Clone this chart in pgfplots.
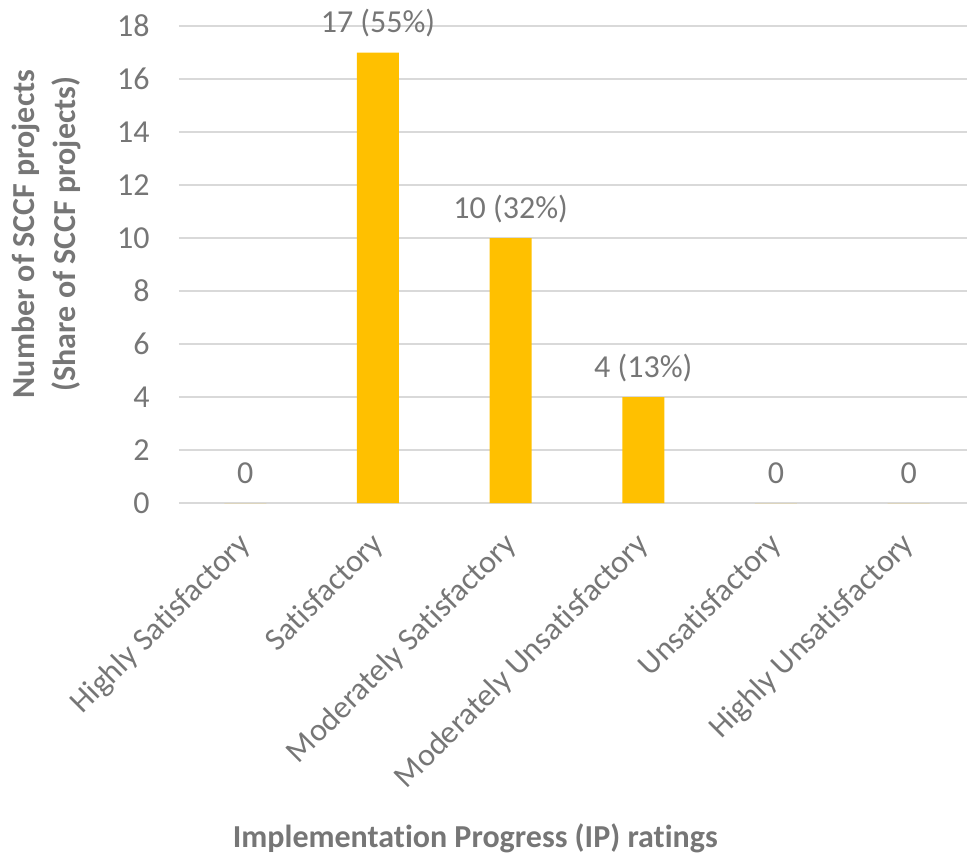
\documentclass[border=0pt]{standalone}
\usepackage{fontspec}
\setmainfont{Carlito}[Ligatures=NoCommon]
\usepackage{pgfplots}
\pgfplotsset{compat=1.18}
\definecolor{txtgray}{HTML}{767676}
\definecolor{gridgray}{HTML}{D9D9D9}
\definecolor{barorange}{HTML}{FFC000}
\newcommand{\chartfont}{\fontsize{16}{19.5}\selectfont}
\begin{document}
\chartfont
\begin{tikzpicture}
\useasboundingbox (-89.5pt,-178pt) rectangle (394pt,251.5pt);
\begin{axis}[
  scale only axis,
  width=394pt, height=238.5pt,
  xmin=-0.5, xmax=5.44,
  ymin=0, ymax=18,
  ytick={0,2,...,18},
  xtick={0,1,2,3,4,5},
  xticklabels={Highly Satisfactory, Satisfactory, Moderately Satisfactory, Moderately Unsatisfactory, Unsatisfactory, Highly Unsatisfactory},
  axis line style={draw=none},
  tick style={draw=none},
  ymajorgrids,
  grid style={gridgray, line width=1pt},
  /pgf/number format/assume math mode=true,
  tick label style={font=\chartfont, text=txtgray},
  yticklabel style={anchor=east, inner sep=0pt, xshift=-14.5pt},
  xticklabel style={xshift=0.5pt, yshift=-14pt, rotate=45, anchor=east, inner sep=0pt},
  ylabel={Number of SCCF projects\\(Share of SCCF projects)},
  ylabel style={at={(axis description cs:-0.168,0.564)}, anchor=center, align=center,
    font=\fontsize{16}{20.5}\selectfont\bfseries, text=txtgray},
  xlabel={Implementation Progress (IP) ratings},
  xlabel style={at={(axis description cs:0.376,-0.723)}, anchor=base,
    font=\chartfont\bfseries, text=txtgray},
  ybar, bar width=21pt,
  point meta=explicit symbolic,
  nodes near coords={\pgfplotspointmeta},
  every node near coord/.append style={anchor=base, inner sep=0pt, yshift=10pt,
    font=\chartfont, text=txtgray},
  clip=false,
]
\addplot[fill=barorange, draw=none] coordinates {
  (0,0) [0]
  (1,17) [17 (55\%)]
  (2,10) [10 (32\%)]
  (3,4) [4 (13\%)]
  (4,0) [0]
  (5,0) [0]
};
\end{axis}
\end{tikzpicture}
\end{document}
